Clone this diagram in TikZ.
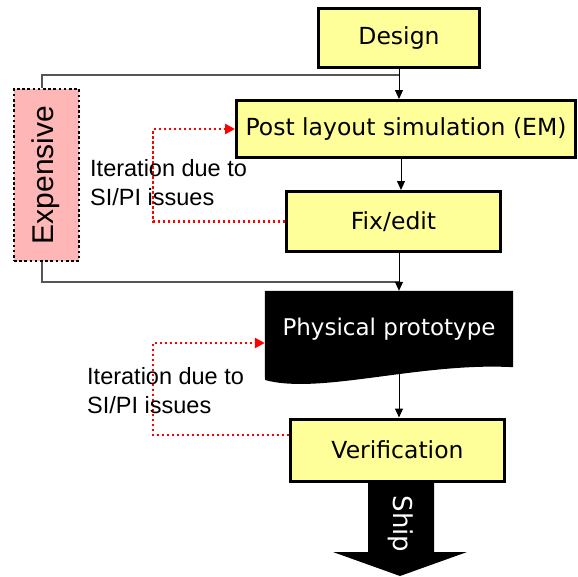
\documentclass[tikz,border=0pt]{standalone}
\usepackage{fontspec}
\setmainfont{DejaVu Sans}
\newfontfamily\labelfont{Liberation Sans}
\usetikzlibrary{arrows.meta,calc}
\definecolor{boxyellow}{RGB}{255,255,153}
\definecolor{costpink}{RGB}{255,182,182}
\definecolor{loopgray}{RGB}{85,85,85}
\begin{document}
\begin{tikzpicture}[x=1pt,y=-1pt,
  stage/.style={draw=black,line width=3pt,fill=boxyellow,inner sep=0pt,
    font=\fontsize{23.5}{28}\selectfont},
  flow/.style={line width=1pt,-{Triangle[length=9pt,width=8pt]}},
  feedback/.style={draw=red,line width=2.4pt,dash pattern=on 2.4pt off 2.6pt,
    -{Triangle[length=10pt,width=10pt]}},
  outerloop/.style={draw=loopgray,line width=1.6pt},
  note/.style={anchor=north west,inner sep=0pt,align=left,
    font=\labelfont\fontsize{23.5}{29}\selectfont}]
\useasboundingbox (0,0) rectangle (578,576);

% process stages
\node[stage,minimum width=161pt,minimum height=59pt] (design) at (399,38) {Design};
\node[stage,minimum width=339pt,minimum height=57pt] (post) at (406,129) {Post layout simulation (EM)};
\node[stage,minimum width=214pt,minimum height=60pt] (fix) at (393.5,221.5) {Fix/edit};
\node[stage,minimum width=214pt,minimum height=62pt] (verif) at (397.5,450) {Verification};

% physical prototype: document shape with a wavy lower edge
\node[minimum width=248pt,minimum height=76pt,inner sep=0pt] (proto) at (389,329) {};
\fill[black] (proto.north west) -- (proto.north east) -- (proto.south east)
  .. controls (420,362) and (320,395) .. (265,380) -- cycle;
\node[text=white,font=\fontsize{23}{28}\selectfont] (protolabel) at (389,329) {Physical prototype};

% cost marker
\node[draw=black,line width=2.6pt,dash pattern=on 2.6pt off 2.6pt,fill=costpink,
  minimum width=65pt,minimum height=172pt,inner sep=0pt] (cost) at (46.5,175) {};
\node[rotate=90,font=\labelfont\fontsize{30}{36}\selectfont] (costlabel) at (46,175) {Expensive};

% ship arrow
\fill[black] (368,482) -- (434,482) -- (434,552) -- (467,552) -- (400,576)
  -- (333,552) -- (368,552) -- cycle;
\node[rotate=-90,text=white,font=\fontsize{26}{32}\selectfont] (ship) at (401,524) {Ship};

% outer loop around the expensive stages
\coordinate (looptop) at (42,75);
\coordinate (loopbot) at (42,282);
\draw[outerloop] (cost.north -| looptop) -- (looptop) -- (looptop -| design.south);
\draw[outerloop] (cost.south -| loopbot) -- (loopbot) -- (loopbot -| design.south);

% main flow
\draw[flow] (design.south) -- (design.south |- post.north);
\draw[flow] (post.south -| 401,0) -- (fix.north -| 401,0);
\draw[flow] (fix.south -| design.south) -- (proto.north -| design.south);
\draw[flow] (proto.south -| design.south) -- (verif.north -| design.south);

% iteration loops
\coordinate (upperturn) at (153,0);
\draw[feedback] (fix.west) -- (fix.west -| upperturn) -- (post.west -| upperturn) -- (post.west);
\coordinate (lowerout) at ($(verif.west)+(0,-15)$);
\coordinate (lowerin) at ($(proto.west)+(0,14)$);
\draw[feedback] (lowerout) -- (lowerout -| upperturn) -- (lowerin -| upperturn) -- (lowerin);

% loop labels
\node[note] (upnote) at (90,159) {Iteration due to\\SI/PI issues};
\node[note] (lownote) at (87,367) {Iteration due to\\SI/PI issues};
\end{tikzpicture}
\end{document}
